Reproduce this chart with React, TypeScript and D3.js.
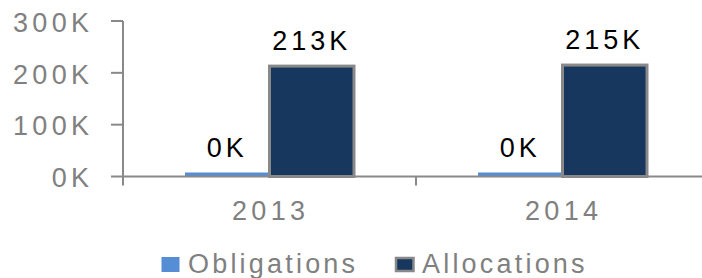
import React from "react";
import * as d3 from "d3";

const categories = ["2013", "2014"];
const seriesNames = ["Obligations", "Allocations"];
const obligations = [0.2, 0.2]; // thousands
const allocations = [213, 215]; // thousands
const yTicks = [0, 100, 200, 300];

const W = 702;
const H = 278;
const FONT = "'Liberation Sans', Arial, Helvetica, sans-serif";
const GRAY = "#898989";
const TEXT_GRAY = "#808080";
const COLORS = ["#558ED5", "#17375E"];
const FS = 27;
const LS = 4.3;
const DL_LS = 4;
const LEG_LS = 3.2;

export default function App() {
  const plotLeft = 123;
  const bandW = 293;
  const x0 = d3
    .scaleBand<string>()
    .domain(categories)
    .range([plotLeft, plotLeft + bandW * categories.length])
    .padding(0);
  const gap = x0.bandwidth() * 0.2116;
  const x1 = d3
    .scaleBand<string>()
    .domain(seriesNames)
    .range([gap, x0.bandwidth() - gap])
    .padding(0);
  const y = d3.scaleLinear().domain([0, 300]).range([176.5, 21]);
  const values = [obligations, allocations];
  const minBarPx = 4;

  return (
    <svg
      width={W}
      height={H}
      style={{ position: "absolute", left: 0, top: 0, background: "#fff" }}
      fontFamily={FONT}
    >
      {/* bars */}
      {categories.map((c, ci) =>
        seriesNames.map((s, si) => {
          const v = values[si][ci];
          const h = Math.max(y(0) - y(v), minBarPx);
          const bx = (x0(c) as number) + (x1(s) as number);
          const bw = x1.bandwidth();
          const border = si === 1;
          return (
            <g key={c + s}>
              <rect
                x={bx}
                y={y(0) - h}
                width={bw}
                height={h}
                fill={COLORS[si]}
                stroke={border ? GRAY : "none"}
                strokeWidth={border ? 3 : 0}
              />
              <text
                x={bx + bw / 2 + DL_LS / 2 - 2}
                y={y(0) - h - 16}
                textAnchor="middle"
                fontSize={FS}
                letterSpacing={DL_LS}
                fill="#000"
              >
                {Math.round(v) + "K"}
              </text>
            </g>
          );
        })
      )}
      {/* y axis */}
      <line x1={plotLeft} x2={plotLeft} y1={y(300)} y2={y(0) + 9} stroke={GRAY} strokeWidth={2} />
      {yTicks.map((t) => (
        <g key={t}>
          <line x1={plotLeft - 12} x2={plotLeft} y1={y(t)} y2={y(t)} stroke={GRAY} strokeWidth={2} />
          <text
            x={89 + LS}
            y={y(t) + 10.7}
            textAnchor="end"
            fontSize={FS}
            letterSpacing={LS}
            fill={TEXT_GRAY}
          >
            {t + "K"}
          </text>
        </g>
      ))}
      {/* x axis */}
      <line x1={plotLeft} x2={W} y1={y(0)} y2={y(0)} stroke={GRAY} strokeWidth={2} />
      {categories.map((c, ci) => (
        <g key={c}>
          {ci > 0 && (
            <line
              x1={x0(c) as number}
              x2={x0(c) as number}
              y1={y(0)}
              y2={y(0) + 9}
              stroke={GRAY}
              strokeWidth={2}
            />
          )}
          <text
            x={(x0(c) as number) + x0.bandwidth() / 2 + LS / 2 - 1}
            y={220}
            textAnchor="middle"
            fontSize={FS}
            letterSpacing={LS}
            fill={TEXT_GRAY}
          >
            {c}
          </text>
        </g>
      ))}
      {/* legend */}
      {seriesNames.map((s, si) => {
        const lx = [161.5, 396][si];
        return (
          <g key={s}>
            <rect
              x={lx}
              y={si === 1 ? 258 : 257}
              width={si === 1 ? 17.5 : 18}
              height={si === 1 ? 13 : 15}
              fill={COLORS[si]}
              stroke={si === 1 ? GRAY : "none"}
              strokeWidth={si === 1 ? 2.5 : 0}
            />
            <text x={[188, 422][si]} y={273} fontSize={FS} letterSpacing={LEG_LS} fill={TEXT_GRAY}>
              {s}
            </text>
          </g>
        );
      })}
    </svg>
  );
}
